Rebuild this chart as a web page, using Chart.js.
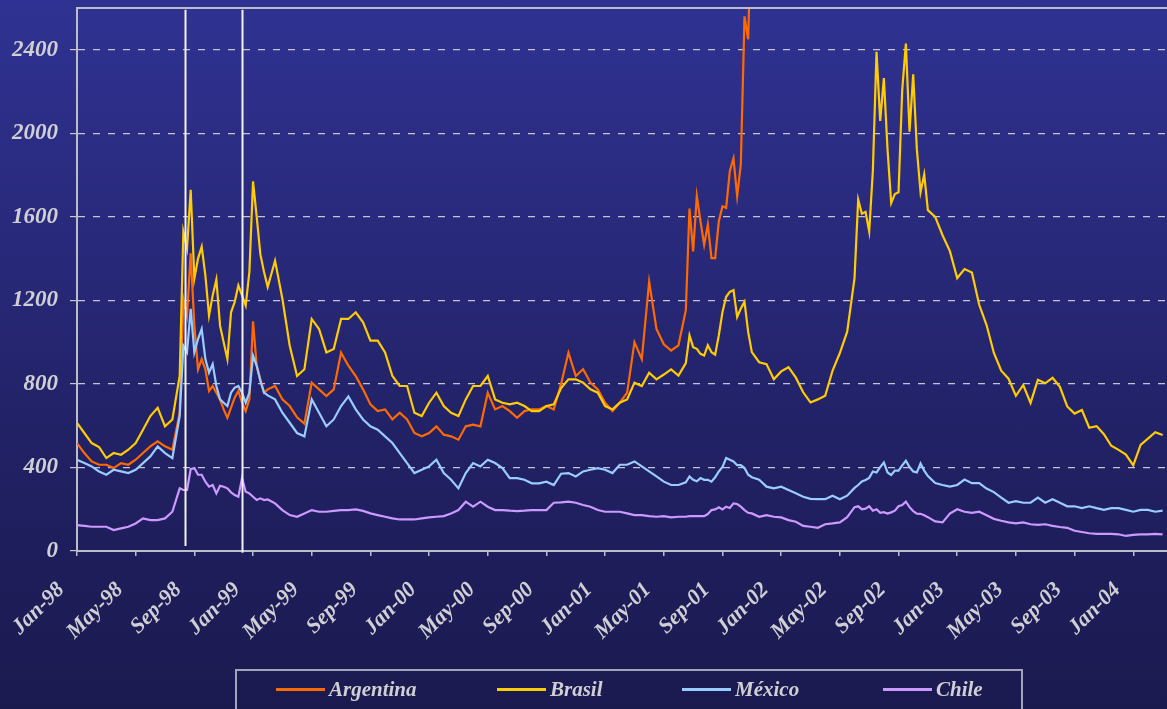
<!DOCTYPE html>
<html>
<head>
<meta charset="utf-8">
<title>EMBI spreads</title>
<script src="https://cdn.jsdelivr.net/npm/chart.js@4.4.1/dist/chart.umd.min.js"></script>
<style>
    html, body { margin: 0; padding: 0; }
    body {
        width: 1167px; height: 709px; overflow: hidden; position: relative;
        background: linear-gradient(to bottom, #2f3292 0%, #28297a 35%, #201f60 70%, #1b1a4f 100%);
        font-family: 'Liberation Serif', 'Times New Roman', serif;
    }
    #spreads { position: absolute; left: 0; top: 0; }
    #legend {
        position: absolute; left: 235px; top: 669px; width: 788px; height: 60px;
        border: 2px solid #a4a4b8; box-sizing: border-box;
    }
    .legend-line { position: absolute; top: 17px; width: 49px; height: 3px; }
    .legend-text {
        position: absolute; top: 6px; line-height: 24px; white-space: nowrap;
        font-style: italic; font-weight: bold; font-size: 21px; color: #cfcfd4;
    }
</style>
</head>
<body>
<canvas id="spreads" width="1167" height="709"></canvas>
<div id="legend"></div>
<script>
//months counted from Jan-98, weekly steps around the crisis spells
function span(from, to, step) {
    var out = [];
    var n = Math.round((to - from) / step);
    for (var i = 0; i <= n; i++) out.push(Math.round((from + i * step) * 100) / 100);
    return out;
}
var months = [].concat(
    span(0, 7, 0.5),        // Jan-98 .. Aug-98
    span(7.25, 13, 0.25),   // Russia / Brazil devaluation
    span(13.5, 41.5, 0.5),  // Feb-99 .. Jun-01
    span(41.75, 46, 0.25),  // Argentina run-up
    span(46.5, 53, 0.5),    // Nov-01 .. Jun-02
    span(53.25, 58, 0.25),  // Brazil election
    span(58.5, 74, 0.5)     // Nov-02 .. Mar-04
);

var tickMonths = [0, 4, 8, 12, 16, 20, 24, 28, 32, 36, 40, 44, 48, 52, 56, 60, 64, 68, 72];
var tickLabels = ['Jan-98', 'May-98', 'Sep-98', 'Jan-99', 'May-99', 'Sep-99', 'Jan-00', 'May-00', 'Sep-00',
    'Jan-01', 'May-01', 'Sep-01', 'Jan-02', 'May-02', 'Sep-02', 'Jan-03', 'May-03', 'Sep-03', 'Jan-04'];
var yTicks = [0, 400, 800, 1200, 1600, 2000, 2400];

// spread in basis points, one value per entry of months
var argentina = [
    517, 469, 429, 413, 413, 397, 421, 413, 437, 469, 501, 525, 501, 485, 662,
    1208, 1127, 1425, 1079, 870, 919, 870, 766, 790, 758, 726, 678, 638, 686, 734, 766, 710, 670, 726, 1100, 887, 822, 758, 774,
    790, 726, 694, 640, 610, 806, 774, 742, 774, 950, 887, 838, 774, 702, 670, 678, 630, 662, 630, 565, 549, 565, 597, 557, 549,
    533, 597, 605, 597, 758, 678, 694, 670, 638, 670, 678, 678, 694, 678, 800, 950, 838, 870, 806, 774, 710, 670, 710, 758, 1000,
    919, 1290, 1063, 990, 960, 985, 1153,
    1640, 1434, 1700, 1579, 1466, 1563, 1402, 1402, 1579, 1651, 1643, 1820, 1880, 1699, 1852, 2560, 2450, 3100,
    3500, null, null, null, null, null, null, null, null, null, null, null, null, null,
    null, null, null, null, null, null, null, null, null, null, null, null, null, null, null, null, null, null, null, null,
    null, null, null, null, null, null, null, null, null, null, null, null, null, null, null, null,
    null, null, null, null, null, null, null, null, null, null, null, null, null, null, null, null
];
var brasil = [
    613, 565, 517, 498, 445, 469, 461, 485, 517, 581, 646, 686, 597, 630, 838,
    1529, 1449, 1730, 1304, 1400, 1457, 1320, 1127, 1224, 1300, 1079, 999, 919, 1143, 1192, 1272, 1224, 1176, 1336, 1770, 1600, 1420, 1336, 1264,
    1390, 1208, 983, 838, 870, 1111, 1063, 951, 967, 1111, 1111, 1143, 1095, 1007, 1007, 951, 838, 790, 790, 662, 646, 710, 758, 694, 662,
    646, 726, 790, 790, 838, 726, 710, 702, 710, 694, 670, 670, 694, 702, 780, 822, 822, 806, 774, 758, 694, 678, 710, 726, 806,
    790, 854, 822, 845, 870, 840, 900,
    1033, 976, 968, 944, 936, 985, 952, 940, 1033, 1145, 1217, 1241, 1249, 1121, 1161, 1193, 1049, 952,
    904, 895, 822, 860, 880, 830, 760, 711, 726, 743, 863, 948, 1050, 1307,
    1683, 1615, 1624, 1530, 1820, 2390, 2059, 2264, 1923, 1666, 1709, 1718, 2205, 2430, 2008, 2282, 1923, 1718, 1803, 1632,
    1600, 1512, 1436, 1307, 1350, 1333, 1179, 1082, 948, 863, 825, 743, 795, 709, 820, 803,
    829, 786, 692, 658, 675, 590, 598, 559, 504, 484, 462, 410, 508, 538, 569, 555
];
var mexico = [
    437, 421, 405, 381, 365, 389, 381, 373, 389, 421, 453, 501, 469, 445, 646,
    983, 951, 1160, 951, 1015, 1063, 919, 854, 895, 790, 726, 710, 694, 758, 782, 790, 758, 710, 758, 935, 887, 814, 758, 745,
    726, 662, 614, 565, 549, 726, 662, 597, 630, 694, 740, 678, 630, 597, 581, 549, 517, 469, 421, 373, 389, 405, 437, 373, 341,
    300, 373, 421, 405, 437, 421, 397, 349, 349, 341, 324, 324, 332, 316, 370, 373, 357, 381, 389, 397, 389, 373, 413, 413, 429,
    405, 381, 357, 332, 316, 316, 329,
    357, 341, 334, 349, 341, 341, 332, 353, 381, 402, 445, 437, 429, 411, 411, 397, 365, 353,
    341, 308, 300, 308, 292, 276, 260, 250, 248, 248, 265, 248, 265, 302,
    316, 333, 340, 350, 381, 376, 402, 424, 376, 364, 385, 385, 410, 432, 402, 381, 376, 419, 385, 359,
    325, 316, 308, 316, 342, 325, 325, 299, 282, 256, 231, 239, 231, 231, 256, 231,
    248, 231, 214, 214, 205, 214, 205, 197, 205, 205, 197, 188, 197, 197, 188, 193
];
var chile = [
    124, 120, 116, 116, 116, 100, 108, 116, 132, 156, 148, 148, 156, 188, 300,
    292, 292, 392, 397, 365, 365, 332, 308, 316, 276, 312, 308, 300, 281, 268, 260, 349, 284, 276, 260, 244, 252, 244, 247,
    228, 196, 172, 164, 180, 196, 188, 188, 192, 196, 196, 199, 192, 180, 172, 164, 156, 151, 151, 151, 156, 161, 164, 167, 180,
    196, 236, 212, 236, 212, 196, 196, 193, 191, 193, 196, 196, 196, 231, 233, 236, 231, 220, 212, 196, 188, 188, 188, 180, 172,
    172, 167, 164, 167, 161, 164, 164,
    167, 167, 167, 167, 167, 177, 196, 199, 209, 199, 212, 206, 228, 225, 212, 196, 183, 180,
    164, 172, 164, 161, 148, 140, 120, 116, 111, 128, 132, 137, 162, 210,
    214, 200, 203, 214, 193, 200, 183, 186, 179, 185, 193, 214, 220, 236, 210, 191, 179, 178, 171, 162,
    142, 137, 179, 200, 188, 183, 188, 171, 154, 145, 137, 132, 137, 128, 125, 128,
    120, 115, 111, 97, 91, 85, 82, 82, 82, 80, 72, 77, 80, 80, 82, 80
];

// Russian default and Brazil devaluation markers (month, from bp, to bp)
var eventLines = [
    { month: 7.33, from: 24, to: 2592 },
    { month: 11.28, from: -8, to: 2592 }
];

var series = [
    { label: 'Argentina', values: argentina, color: '#ff6a00' },
    { label: 'Brasil', values: brasil, color: '#ffcc00' },
    { label: 'México', values: mexico, color: '#99ccff' },
    { label: 'Chile', values: chile, color: '#cc99ff' }
];

var axisFont = { family: "'Liberation Serif', 'Times New Roman', serif", style: 'italic', weight: 'bold' };
var axisColor = '#bdbdc8';
var textColor = '#cfcfd4';

//top frame + event lines
var framePlugin = {
    id: 'frame',
    afterDatasetsDraw: function (chart) {
        var ctx = chart.ctx;
        var area = chart.chartArea;
        var xs = chart.scales.x;
        var ys = chart.scales.y;
        ctx.save();
        ctx.strokeStyle = '#f2f2f6';
        ctx.lineWidth = 2;
        eventLines.forEach(function (ev) {
            var px = Math.round(xs.getPixelForValue(ev.month)) + 0.5;
            ctx.beginPath();
            ctx.moveTo(px, ys.getPixelForValue(ev.to));
            ctx.lineTo(px, ys.getPixelForValue(ev.from));
            ctx.stroke();
        });
        ctx.strokeStyle = axisColor;
        ctx.beginPath();
        ctx.moveTo(area.left - 1, area.top);
        ctx.lineTo(area.right, area.top);
        ctx.stroke();
        ctx.restore();
    }
};

var ctx = document.getElementById('spreads');
var chart = new Chart(ctx, {
    type: 'line',
    data: {
        datasets: series.map(function (s, i) {
            return {
                label: s.label,
                data: months.map(function (m, k) { return { x: m, y: s.values[k] }; }),
                borderColor: s.color,
                backgroundColor: s.color,
                borderWidth: 2.2,
                pointRadius: 0,
                tension: 0,
                spanGaps: false,
                order: series.length - 1 - i
            };
        })
    },
    options: {
        responsive: false,
        animation: false,
        layout: { padding: { top: 8, left: 0, right: 0, bottom: 0 }, autoPadding: false },
        plugins: {
            legend: { display: false },
            tooltip: { enabled: false }
        },
        scales: {
            x: {
                type: 'linear',
                min: 0,
                max: 74.3,
                afterBuildTicks: function (scale) {
                    scale.ticks = tickMonths.map(function (v) { return { value: v }; });
                },
                afterFit: function (scale) {
                    scale.height = 158;
                    scale.paddingLeft = 0;
                    scale.paddingRight = 0;
                },
                grid: { drawOnChartArea: false, drawTicks: true, tickLength: 5, color: axisColor, lineWidth: 1.5 },
                border: { display: true, color: axisColor, width: 2 },
                ticks: {
                    autoSkip: false,
                    minRotation: 45,
                    maxRotation: 45,
                    padding: 21,
                    labelOffset: -16,
                    color: textColor,
                    font: Object.assign({ size: 22 }, axisFont),
                    callback: function (v) { return tickLabels[tickMonths.indexOf(v)]; }
                }
            },
            y: {
                min: 0,
                max: 2600,
                afterBuildTicks: function (scale) {
                    scale.ticks = yTicks.map(function (v) { return { value: v }; });
                },
                afterFit: function (scale) {
                    scale.width = 77;
                    scale.paddingTop = 0;
                    scale.paddingBottom = 0;
                },
                grid: {
                    color: function (c) { return c.tick && c.tick.value === 0 ? 'rgba(0,0,0,0)' : '#c4c4d4'; },
                    tickColor: '#c4c4d4',
                    lineWidth: 1.2,
                    tickLength: 7,
                    tickBorderDash: []
                },
                border: { display: true, color: axisColor, width: 2, dash: [7, 8] },
                ticks: {
                    padding: 12,
                    color: textColor,
                    font: Object.assign({ size: 23 }, axisFont),
                    callback: function (v) { return String(v); }
                }
            }
        }
    },
    plugins: [framePlugin]
});

//legend
var legendSlots = [39, 260, 445, 646];
var legend = document.getElementById('legend');
series.forEach(function (s, i) {
    var line = document.createElement('div');
    line.className = 'legend-line';
    line.style.left = legendSlots[i] + 'px';
    line.style.background = s.color;
    var text = document.createElement('div');
    text.className = 'legend-text';
    text.style.left = (legendSlots[i] + 53) + 'px';
    text.textContent = s.label;
    legend.appendChild(line);
    legend.appendChild(text);
});
</script>
</body>
</html>
